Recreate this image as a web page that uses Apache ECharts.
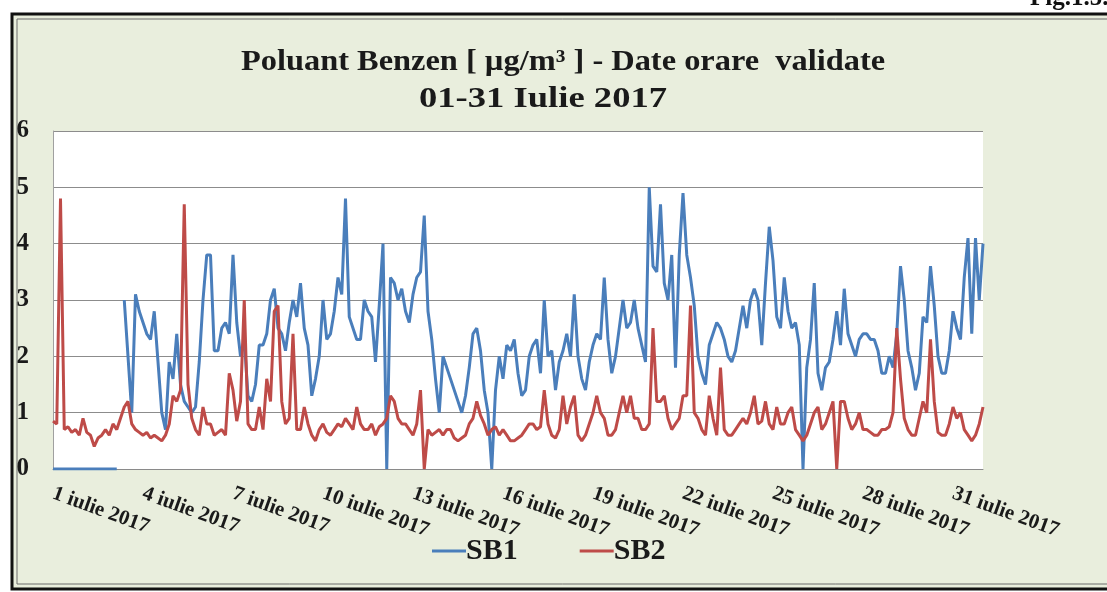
<!DOCTYPE html>
<html>
<head>
<meta charset="utf-8">
<script src="https://cdn.jsdelivr.net/npm/echarts@6/dist/echarts.min.js"></script>
<style>
html,body{margin:0;padding:0;background:#fff;}
#c{width:1107px;height:592px;}
</style>
</head>
<body>
<div id="c"></div>
<script>
// Hourly data sampled every 3 hours, 1 July 00:00 -> 31 July 24:00
const STEP_HOURS = 3;
const tickDays = [1, 4, 7, 10, 13, 16, 19, 22, 25, 28, 31];
const seriesNames = ['SB1', 'SB2'];

const SB1 = [
0,0,0,0,0,0,0,0,0,0,0,0,0,0,0,0,0,0,null,
3.0,2.0,1.0,3.1,2.8,2.6,2.4,2.3,2.8,1.9,1.0,0.7,1.9,1.6,2.4,1.5,1.2,1.1,1.0,1.1,1.9,3.0,3.8,
3.8,2.1,2.1,2.5,2.6,2.4,3.8,2.6,2.0,2.3,1.3,1.2,1.5,2.2,2.2,2.4,3.0,3.2,2.5,2.4,2.1,2.6,3.0,2.7,3.3,2.5,2.2,1.3,1.6,2.0,3.0,2.3,2.4,2.8,3.4,3.1,4.8,2.7,2.5,2.3,2.3,3.0,2.8,
2.7,1.9,2.9,4.0,0,3.4,3.3,3.0,3.2,2.8,2.6,3.1,3.4,3.5,4.5,2.8,2.3,1.6,1.0,2.0,1.8,1.6,1.4,1.2,1.0,1.3,1.8,2.4,2.5,2.1,1.4,1.0,0,1.4,2.0,1.6,2.2,2.1,2.3,1.7,1.3,1.4,2.0,
2.2,2.3,1.7,3.0,2.0,2.1,1.4,1.9,2.1,2.4,2.0,3.1,2.0,1.6,1.4,1.9,2.2,2.4,2.3,3.4,2.3,1.7,2.0,2.5,3.0,2.5,2.6,3.0,2.5,2.2,1.9,5.0,3.6,3.5,4.7,3.3,3.0,3.8,1.8,3.8,4.9,3.8,3.4,
2.9,2.0,1.7,1.5,2.2,2.4,2.6,2.5,2.3,2.0,1.9,2.1,2.5,2.9,2.5,3.0,3.2,3.0,2.2,3.3,4.3,3.7,2.7,2.5,3.4,2.8,2.5,2.6,2.2,0,1.8,2.3,3.3,1.7,1.4,1.8,1.9,2.3,2.8,2.2,3.2,2.4,2.2,
2.0,2.3,2.4,2.4,2.3,2.3,2.1,1.7,1.7,2.0,1.8,2.4,3.6,3.0,2.1,1.8,1.4,1.7,2.7,2.6,3.6,2.9,2.0,1.7,1.7,2.1,2.8,2.5,2.3,3.4,4.1,2.4,4.1,3.0,4.0
];

const SB2 = [
0.85,0.8,4.8,0.7,0.75,0.65,0.7,0.6,0.9,0.65,0.6,0.4,0.55,0.6,0.7,0.6,0.8,0.7,0.9,
1.1,1.2,0.8,0.7,0.65,0.6,0.65,0.55,0.6,0.55,0.5,0.6,0.8,1.3,1.2,1.4,4.7,1.5,0.9,0.7,0.6,1.1,0.8,
0.8,0.6,0.65,0.7,0.6,1.7,1.4,0.85,1.2,3.0,0.8,0.7,0.7,1.1,0.7,1.6,1.2,2.8,2.9,1.2,0.8,0.9,2.4,0.7,0.7,1.1,0.8,0.6,0.5,0.7,0.8,0.65,0.6,0.7,0.8,0.75,0.9,0.8,0.7,1.1,0.8,0.7,0.7,
0.8,0.6,0.75,0.8,0.9,1.3,1.2,0.9,0.8,0.8,0.7,0.6,0.8,1.4,0,0.7,0.6,0.65,0.7,0.6,0.7,0.7,0.55,0.5,0.55,0.6,0.8,0.9,1.2,0.95,0.8,0.6,0.7,0.75,0.6,0.7,0.6,0.5,0.5,0.55,0.6,0.7,0.8,
0.8,0.7,0.75,1.4,0.8,0.6,0.55,0.7,1.3,0.8,1.1,1.3,0.6,0.5,0.6,0.8,1.0,1.3,1.0,0.9,0.6,0.6,0.7,1.0,1.3,1.0,1.3,0.9,0.9,0.7,0.7,0.8,2.5,1.2,1.2,1.3,0.9,0.7,0.8,0.9,1.3,1.3,2.9,
1.0,0.9,0.7,0.6,1.3,0.9,0.6,1.8,0.7,0.6,0.6,0.7,0.8,0.9,0.8,1.0,1.3,0.8,0.85,1.2,0.8,0.7,1.1,0.8,0.8,1.0,1.1,0.7,0.6,0.5,0.6,0.8,1.0,1.1,0.7,0.8,1.0,1.2,0,1.2,1.2,0.9,0.7,
0.8,1.0,0.7,0.7,0.65,0.6,0.6,0.7,0.7,0.75,1.0,2.5,1.6,0.9,0.7,0.6,0.6,0.9,1.2,1.0,2.3,1.2,0.65,0.6,0.6,0.8,1.1,0.9,1.0,0.7,0.6,0.5,0.6,0.8,1.1
];

const yTicks = [0, 1, 2, 3, 4, 5, 6];

const toPairs = arr => arr.map((v, i) => [i * STEP_HOURS, v]);

const chart = echarts.init(document.getElementById('c'), null, {renderer: 'canvas'});
const serif = '"Liberation Serif", "Times New Roman", serif';

chart.setOption({
  backgroundColor: '#ffffff',
  animation: false,
  graphic: [
    {type: 'rect', z: -10, shape: {x: 12, y: 14, width: 1110, height: 575},
     style: {fill: '#e9eedd', stroke: '#111', lineWidth: 3}},
    {type: 'rect', z: -9, shape: {x: 17, y: 19, width: 1110, height: 565},
     style: {fill: 'none', stroke: '#6b6b6b', lineWidth: 1}},
    {type: 'text', x: 1030, y: -14, z: 10,
     style: {text: 'Fig.1.5.', font: 'bold 25px ' + serif, fill: '#111'}},
    {type: 'text', x: 563, y: 62, z: 10, scaleX: 1.08,
     style: {text: 'Poluant Benzen [ µg/m³ ] - Date orare  validate', font: 'bold 30px ' + serif,
             fill: '#1a1a1a', textAlign: 'center', textVerticalAlign: 'middle'}},
    {type: 'text', x: 543, y: 99, z: 10, scaleX: 1.22,
     style: {text: '01-31 Iulie 2017', font: 'bold 30px ' + serif,
             fill: '#1a1a1a', textAlign: 'center', textVerticalAlign: 'middle'}}
  ],
  grid: {left: 53, right: 124, top: 131, bottom: 123, show: true,
         backgroundColor: '#ffffff', borderWidth: 0},
  legend: {
    data: seriesNames,
    left: 427, top: 531,
    icon: 'rect', itemWidth: 34, itemHeight: 3, itemGap: 62,
    textStyle: {fontFamily: serif, fontWeight: 'bold', fontSize: 30, color: '#1a1a1a', padding: [0, 0, 0, -5]}
  },
  xAxis: {
    type: 'value', min: 0, max: 744, interval: 72,
    axisLine: {show: true, lineStyle: {color: '#8a8a8a', width: 1}},
    axisTick: {show: false},
    splitLine: {show: false},
    axisLabel: {
      rotate: -20, margin: 24, showMaxLabel: false,
      fontFamily: serif, fontWeight: 'bold', fontSize: 21, color: '#1a1a1a',
      formatter: v => (tickDays.includes(v / 24 + 1) ? (v / 24 + 1) + ' iulie 2017' : '')
    }
  },
  yAxis: {
    type: 'value', min: yTicks[0], max: yTicks[yTicks.length - 1], interval: 1,
    axisLine: {show: true, lineStyle: {color: '#a0a0a0', width: 1}},
    axisTick: {show: false},
    splitLine: {show: true, lineStyle: {color: '#8c8c8c', width: 1}},
    axisLabel: {margin: 24, fontFamily: serif, fontWeight: 'bold', fontSize: 25, color: '#1a1a1a'}
  },
  series: [
    {name: seriesNames[0], type: 'line', data: toPairs(SB1), showSymbol: false, connectNulls: false,
     lineStyle: {color: '#4a7ebb', width: 3}, itemStyle: {color: '#4a7ebb'}},
    {name: seriesNames[1], type: 'line', data: toPairs(SB2), showSymbol: false,
     lineStyle: {color: '#be4b48', width: 3}, itemStyle: {color: '#be4b48'}}
  ]
});
</script>
</body>
</html>
